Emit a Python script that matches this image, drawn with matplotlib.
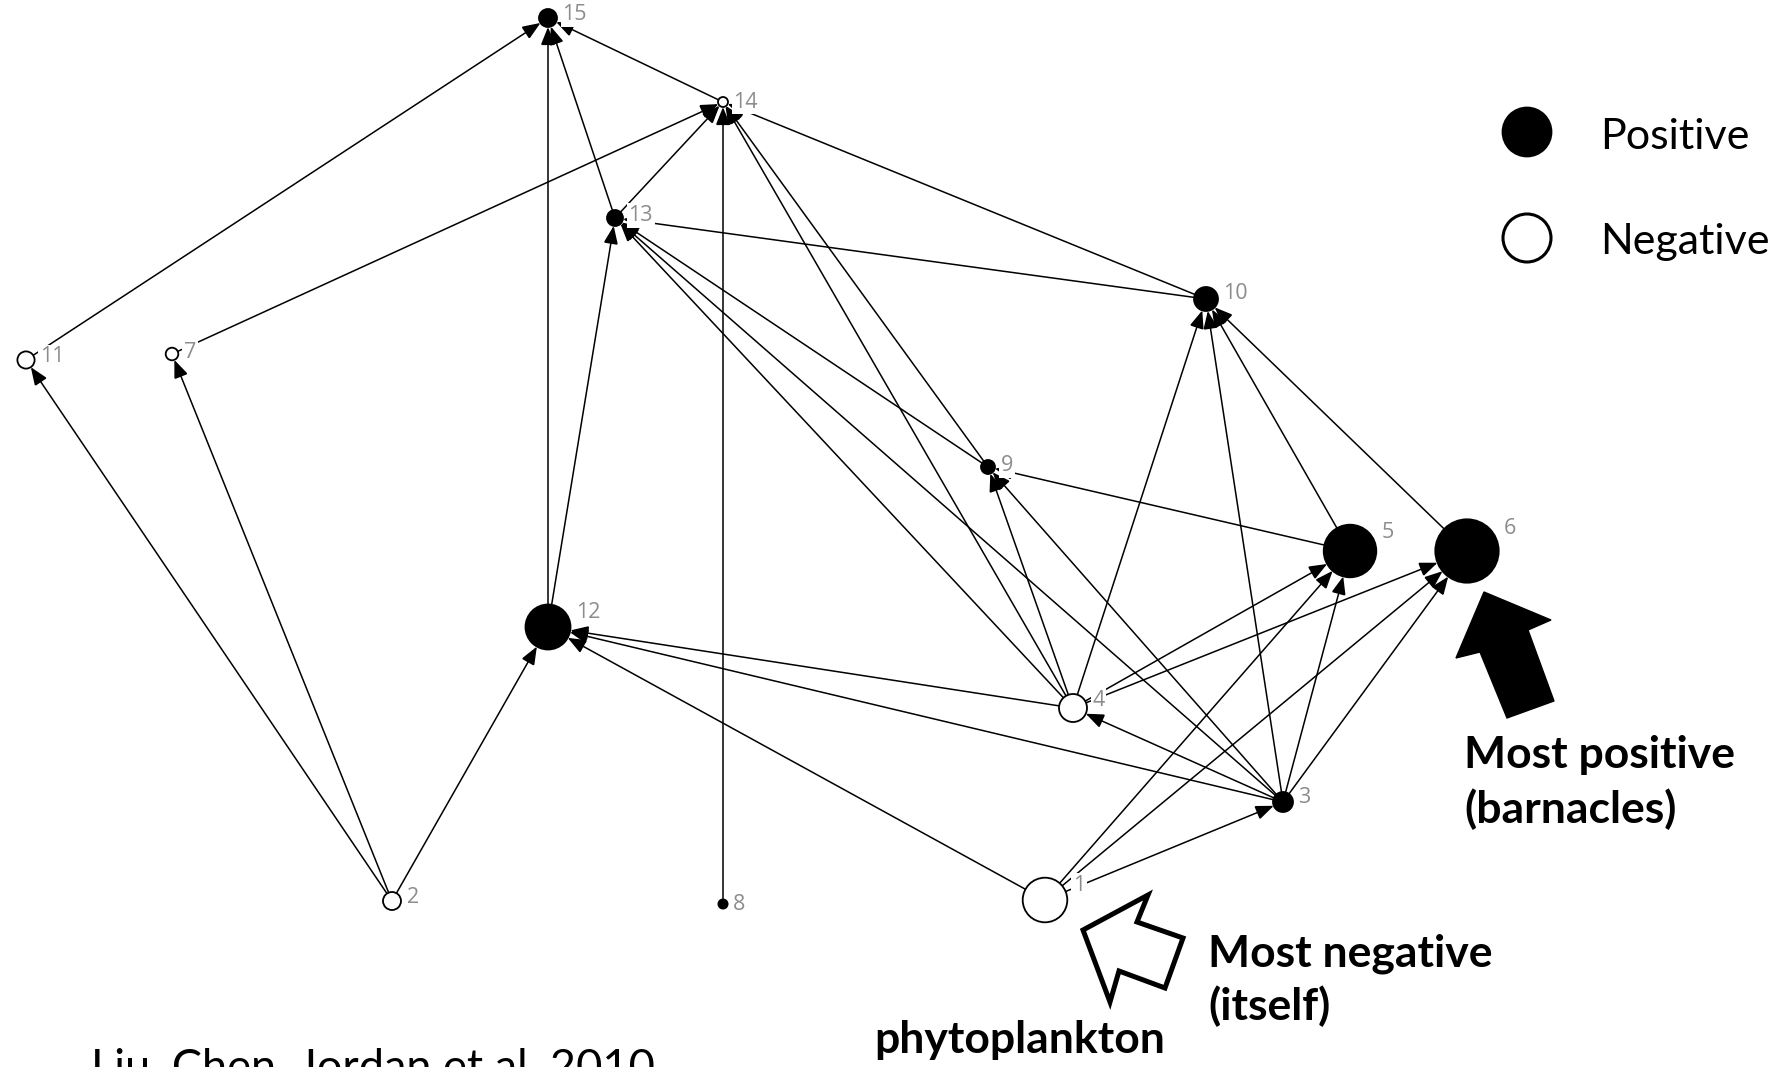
import matplotlib
matplotlib.use("Agg")
import matplotlib.pyplot as plt
from matplotlib.patches import Circle, Polygon

# ---- food-web nodes -------------------------------------------------------
node_ids = [1, 2, 3, 4, 5, 6, 7, 8, 9, 10, 11, 12, 13, 14, 15]
# sign of the net effect (+ positive, - negative) and its magnitude
node_sign = ['-', '-', '+', '-', '+', '+', '-', '+', '+', '+', '-', '+', '+', '-', '+']
node_magnitude = [22.3, 9.0, 10.0, 14.0, 26.3, 31.7, 6.3, 4.6, 7.0, 12.0,
                  8.6, 22.5, 8.0, 5.0, 9.0]

# network layout (canvas pixels, y downward)
layout_x = [1045, 392, 1283, 1073, 1350, 1467, 172, 723, 988, 1206,
            26, 548, 615, 723, 548]
layout_y = [900, 901, 802, 708, 551, 551, 354, 904, 467, 299,
            360, 627, 218, 102, 18]

# directed interactions (source -> target)
interactions = [
    (2, 11), (2, 7), (2, 12),
    (11, 15), (7, 14),
    (12, 15), (12, 13),
    (13, 15), (13, 14), (14, 15), (8, 14),
    (10, 13), (10, 14), (9, 14), (9, 13),
    (4, 13), (3, 13), (4, 14),
    (4, 12), (3, 12), (1, 12),
    (3, 4), (1, 3), (1, 5), (1, 6),
    (3, 5), (3, 6), (4, 5), (4, 6),
    (4, 10), (3, 10), (5, 10), (6, 10),
    (4, 9), (3, 9), (5, 9),
]

legend_labels = ["Positive", "Negative"]
citation = "Liu, Chen, Jordan et al. 2010"

W, H = 1787, 1067
fig = plt.figure(figsize=(W / 100, H / 100), dpi=100)
ax = fig.add_axes([0, 0, 1, 1])
ax.set_xlim(0, W)
ax.set_ylim(H, 0)
ax.axis("off")

PX = 72 / 100  # points per pixel
pos = {n: (x, y) for n, x, y in zip(node_ids, layout_x, layout_y)}
rad = dict(zip(node_ids, node_magnitude))
sgn = dict(zip(node_ids, node_sign))

# edges
for s, t in interactions:
    ax.annotate(
        "", xy=pos[t], xytext=pos[s],
        arrowprops=dict(
            arrowstyle="-|>,head_length=0.55,head_width=0.22",
            mutation_scale=20, shrinkA=0, shrinkB=rad[t] * PX,
            lw=1.1, color="black", joinstyle="miter"),
        zorder=1)

# nodes
for n in node_ids:
    x, y = pos[n]
    r = rad[n]
    fc = "black" if sgn[n] == "+" else "white"
    ax.add_patch(Circle((x, y), r, facecolor=fc, edgecolor="black",
                        lw=1.3, zorder=3))
    ax.text(x + r + 5.5, y - 0.85 * max(r - 5, 0), str(n),
            color="#8c8c8c", fontsize=15.5, family="Open Sans",
            ha="left", va="center",
            bbox=dict(boxstyle="square,pad=0.08", fc="white", ec="none"),
            zorder=4)

# legend
ax.add_patch(Circle((1527, 132), 24, facecolor="black", edgecolor="black",
                    lw=2, zorder=3))
ax.add_patch(Circle((1527, 238), 24, facecolor="white", edgecolor="black",
                    lw=2.2, zorder=3))
ax.text(1600, 149, legend_labels[0], family="Lato", fontsize=31,
        ha="left", va="baseline")
ax.text(1600, 254, legend_labels[1], family="Lato", fontsize=31,
        ha="left", va="baseline")

# call-out arrows
ax.add_patch(Polygon([(1484, 592), (1551, 620), (1528, 630), (1554, 701),
                      (1507, 718), (1480, 652), (1456, 658)],
                     closed=True, facecolor="black", edgecolor="black",
                     lw=1, zorder=3))
ax.add_patch(Polygon([(1083, 930), (1148, 895), (1137, 922), (1183, 938),
                      (1165, 988), (1119, 971), (1110, 1002)],
                     closed=True, facecolor="white", edgecolor="black",
                     lw=3.6, joinstyle="miter", zorder=3))

bold = dict(family="Lato", fontweight="bold", fontsize=32,
            ha="left", va="baseline")
ax.text(1464, 768, "Most positive", **bold)
ax.text(1464, 823, "(barnacles)", **bold)
ax.text(1208, 966, "Most negative", **bold)
ax.text(1208, 1020, "(itself)", **bold)
ax.text(874, 1053, "phytoplankton", **bold)

ax.text(91, 1081, citation, family="Lato", fontsize=32.5,
        ha="left", va="baseline")

fig.savefig("out.png", dpi=100, facecolor="white")
